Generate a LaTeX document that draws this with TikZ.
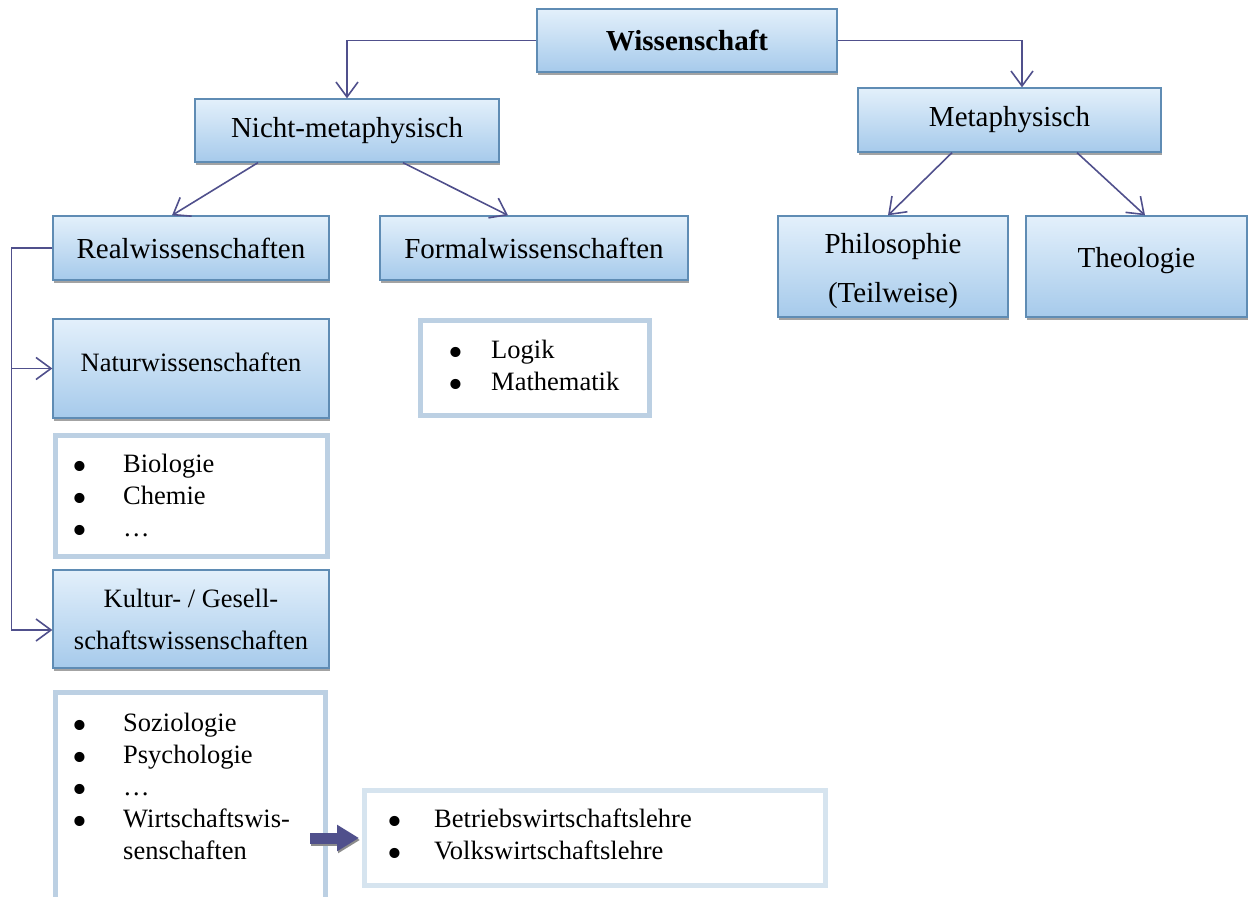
\documentclass[tikz,border=0pt]{standalone}
\usepackage{fontspec}
\setmainfont{Liberation Serif}
\usetikzlibrary{arrows.meta,shadows}
\definecolor{arrowc}{RGB}{80,80,140}
\definecolor{boxline}{RGB}{95,140,180}
\definecolor{boxtop}{RGB}{227,240,251}
\definecolor{boxbot}{RGB}{166,202,235}
\definecolor{listline}{RGB}{188,208,227}
\definecolor{listlight}{RGB}{214,228,239}
\tikzset{
 box/.style={draw=boxline, line width=1.3pt, top color=boxtop, bottom color=boxbot,
   drop shadow={shadow xshift=1pt, shadow yshift=-3pt, fill=black!60, opacity=0.6},
   align=center, inner sep=0pt, font=\fontsize{29}{34}\selectfont},
 boxtext/.style={align=center, inner sep=0pt},
 listbox/.style={draw=listline, line width=5pt, fill=white, inner sep=0pt},
 conn/.style={draw=arrowc, line width=1.6pt, -{Straight Barb[length=15pt,width=22pt]}},
 bul/.style={anchor=base, inner sep=0pt, font=\fontsize{26.5}{32}\selectfont},
 itm/.style={anchor=base west, inner sep=0pt, font=\fontsize{26.5}{32}\selectfont},
}
\newcommand{\bigbul}{\raisebox{-8pt}[0pt][0pt]{\scalebox{1.6}{\textbullet}}}
\begin{document}
\begin{tikzpicture}[x=1pt,y=-1pt]
\useasboundingbox (0,0) rectangle (1249,896);
\clip (0,0) rectangle (1249,896);
% main boxes
\node[box, minimum width=300pt, minimum height=63pt, font=\bfseries\fontsize{29}{34}\selectfont] (wiss) at (687,40.5) {Wissenschaft};
\node[box, minimum width=304pt, minimum height=63pt] (nicht) at (347,130.5) {Nicht-metaphysisch};
\node[box, minimum width=303pt, minimum height=64pt] (meta) at (1009.5,120) {Metaphysisch};
\node[box, minimum width=276pt, minimum height=64pt] (real) at (191,248) {Realwissenschaften};
\node[box, minimum width=308pt, minimum height=64pt] (formal) at (534,248) {Formalwissenschaften};
\node[box, minimum width=230pt, minimum height=101pt] (philo) at (893,266.5) {};
\node[boxtext, font=\fontsize{29}{49}\selectfont] (philot) at ([yshift=-5pt]philo.center) {Philosophie\\(Teilweise)};
\node[box, minimum width=221pt, minimum height=101pt] (theo) at (1136.5,266.5) {};
\node[boxtext, font=\fontsize{29}{34}\selectfont] (theot) at ([yshift=6pt]theo.center) {Theologie};
\node[box, minimum width=276pt, minimum height=99pt] (natur) at (191,368.5) {};
\node[boxtext, font=\fontsize{26.5}{32}\selectfont] (naturt) at ([yshift=6pt]natur.center) {Naturwissenschaften};
\node[box, minimum width=276pt, minimum height=98pt, font=\fontsize{26.5}{42}\selectfont] (kultur) at (191,619) {Kultur- / Gesell-\\schaftswissenschaften};
% list boxes
\node[listbox, minimum width=272pt, minimum height=121pt] (bio) at (191,496) {};
\node[listbox, minimum width=229pt, minimum height=95pt] (formlist) at (535,368) {};
\node[listbox, minimum width=270pt, minimum height=227pt] (sozio) at (190.5,806) {};
\node[listbox, draw=listlight, minimum width=461pt, minimum height=95pt] (bwl) at (595,838) {};
% list items
\node[bul] (bb1) at (80,472) {\bigbul};
\node[itm] (bt1) at (123,472) {Biologie};
\node[bul] (bb2) at (80,504) {\bigbul};
\node[itm] (bt2) at (123,504) {Chemie};
\node[bul] (bb3) at (80,536) {\bigbul};
\node[itm] (bt3) at (123,536) {…};
\node[bul] (fb1) at (456,358) {\bigbul};
\node[itm] (ft1) at (491,358) {Logik};
\node[bul] (fb2) at (456,390) {\bigbul};
\node[itm] (ft2) at (491,390) {Mathematik};
\node[bul] (sb1) at (80,731) {\bigbul};
\node[itm] (st1) at (123,731) {Soziologie};
\node[bul] (sb2) at (80,763) {\bigbul};
\node[itm] (st2) at (123,763) {Psychologie};
\node[bul] (sb3) at (80,795) {\bigbul};
\node[itm] (st3) at (123,795) {…};
\node[bul] (sb4) at (80,827) {\bigbul};
\node[itm] (st4) at (123,827) {Wirtschaftswis-};
\node[itm] (st5) at (123,859) {senschaften};
\node[bul] (wb1) at (395,827) {\bigbul};
\node[itm] (wt1) at (434,827) {Betriebswirtschaftslehre};
\node[bul] (wb2) at (395,859) {\bigbul};
\node[itm] (wt2) at (434,859) {Volkswirtschaftslehre};
% connectors
\draw[conn] (wiss.west) -| (nicht.north);
\draw[conn] (wiss.east) -| ([xshift=12.5pt]meta.north);
\draw[conn] ([xshift=-89pt]nicht.south) -- ([xshift=-19pt]real.north);
\draw[conn] ([xshift=56pt]nicht.south) -- ([xshift=-26pt]formal.north);
\draw[conn] ([xshift=-57.5pt]meta.south) -- ([xshift=-5pt]philo.north);
\draw[conn] ([xshift=67.5pt]meta.south) -- ([xshift=8.5pt]theo.north);
\draw[conn] (real.west) -- ++(-41,0) |- (natur.west);
\draw[conn] (real.west) -- ++(-41,0) |- ([yshift=-11pt]kultur.west);
% block arrow
\coordinate (wsrc) at (310,838);
\draw[draw=black!45, line width=11pt, -{Triangle[length=22pt,width=25pt]}, shorten >=3pt] ([shift={(1pt,-2pt)}]wsrc) -- ([shift={(1pt,-2pt)}]bwl.west);
\draw[draw=arrowc, line width=11pt, -{Triangle[length=22pt,width=25pt]}, shorten >=3pt] (wsrc) -- (bwl.west);
\end{tikzpicture}
\end{document}
